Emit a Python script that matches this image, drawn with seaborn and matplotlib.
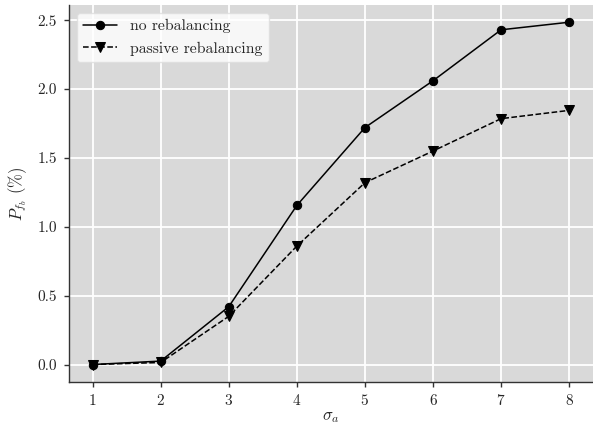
import matplotlib
matplotlib.use("Agg")
import matplotlib.pyplot as plt
import seaborn as sns
import pandas as pd

sigma_a = [1, 2, 3, 4, 5, 6, 7, 8]
no_rebalancing = [0.0, 0.025, 0.42, 1.155, 1.72, 2.06, 2.43, 2.485]
passive_rebalancing = [0.0, 0.015, 0.35, 0.86, 1.32, 1.55, 1.785, 1.845]

sns.set_style("darkgrid", {"axes.facecolor": "#d9d9d9", "grid.color": "white"})
plt.rcParams["font.family"] = "serif"
plt.rcParams["font.serif"] = ["cmr10"]
plt.rcParams["mathtext.fontset"] = "cm"
plt.rcParams["axes.formatter.use_mathtext"] = True
plt.rcParams["font.size"] = 11

df = pd.DataFrame({"sigma": sigma_a, "none": no_rebalancing, "passive": passive_rebalancing})

fig = plt.figure(figsize=(5.93, 4.25), dpi=100)
ax = fig.add_axes([0.116, 0.102, 0.884, 0.886])

sns.lineplot(data=df, x="sigma", y="none", ax=ax, color="black", marker="o",
             markersize=6, linewidth=1.1, label="no rebalancing", markeredgecolor="black")
sns.lineplot(data=df, x="sigma", y="passive", ax=ax, color="black", marker="v",
             markersize=6.5, linewidth=1.1, linestyle="--", label="passive rebalancing",
             markeredgecolor="black")

ax.grid(True, color="white", linewidth=1.3)
ax.set_xticks(sigma_a)
ax.set_yticks([0.0, 0.5, 1.0, 1.5, 2.0, 2.5])
ax.set_yticklabels(["0.0", "0.5", "1.0", "1.5", "2.0", "2.5"])
ax.set_xlabel(r"$\sigma_a$", fontsize=12, labelpad=1)
ax.set_ylabel(r"$P_{f_b}$ (%)", fontsize=12, labelpad=6)
for s in ["top", "right"]:
    ax.spines[s].set_visible(False)
for s in ["left", "bottom"]:
    ax.spines[s].set_visible(True)
    ax.spines[s].set_color("#333333")
    ax.spines[s].set_linewidth(1.0)
ax.tick_params(axis="both", which="both", length=3.5, width=1, color="#333333",
               direction="out", bottom=True, left=True, labelsize=11, pad=5)

leg = ax.legend(loc="upper left", frameon=True, fontsize=11.3, borderaxespad=0.5,
                handlelength=2.2)
leg.get_frame().set_facecolor("white")
leg.get_frame().set_alpha(0.8)
leg.get_frame().set_edgecolor("#dddddd")

fig.savefig("out.png", dpi=100)
